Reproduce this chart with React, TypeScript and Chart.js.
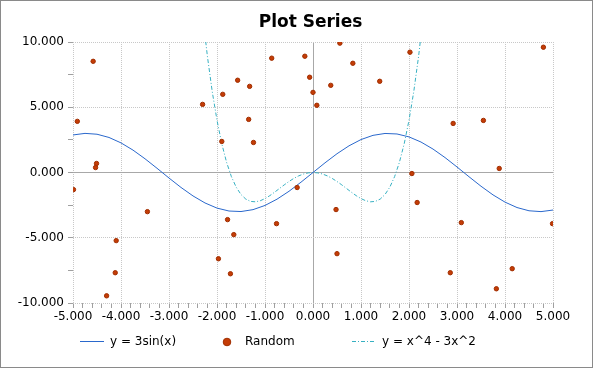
import React, { useEffect, useRef } from "react";
import { Chart, registerables } from "chart.js";

Chart.register(...registerables);

const TITLE = "Plot Series";
const SERIES_LABELS = ["y = 3sin(x)", "Random", "y = x^4 - 3x^2"];

const sineX = [
  -5, -4.75, -4.5, -4.25, -4, -3.75, -3.5, -3.25, -3, -2.75, -2.5, -2.25, -2, -1.75, -1.5, -1.25, -1, -0.75, -0.5, -0.25,
  0, 0.25, 0.5, 0.75, 1, 1.25, 1.5, 1.75, 2, 2.25, 2.5, 2.75, 3, 3.25, 3.5, 3.75, 4, 4.25, 4.5, 4.75, 5,
];
const sineY = [
  2.877, 2.998, 2.933, 2.685, 2.27, 1.715, 1.052, 0.325, -0.423, -1.145, -1.795, -2.334, -2.728, -2.952, -2.992, -2.847,
  -2.524, -2.045, -1.438, -0.742, 0, 0.742, 1.438, 2.045, 2.524, 2.847, 2.992, 2.952, 2.728, 2.334, 1.795, 1.145, 0.423,
  -0.325, -1.052, -1.715, -2.27, -2.685, -2.933, -2.998, -2.877,
];

const quartX = [
  -2.3, -2.2, -2.1, -2.0, -1.9, -1.8, -1.7, -1.6, -1.5, -1.4, -1.3, -1.2, -1.1, -1.0, -0.9, -0.8, -0.7, -0.6, -0.5, -0.4,
  -0.3, -0.2, -0.1, 0, 0.1, 0.2, 0.3, 0.4, 0.5, 0.6, 0.7, 0.8, 0.9, 1.0, 1.1, 1.2, 1.3, 1.4, 1.5, 1.6, 1.7, 1.8, 1.9, 2.0,
  2.1, 2.2, 2.3,
];
const quartY = [
  12.114, 8.906, 6.218, 4.0, 2.202, 0.778, -0.318, -1.126, -1.688, -2.038, -2.214, -2.246, -2.166, -2.0, -1.774, -1.51,
  -1.23, -0.95, -0.688, -0.454, -0.262, -0.118, -0.03, 0, -0.03, -0.118, -0.262, -0.454, -0.688, -0.95, -1.23, -1.51,
  -1.774, -2.0, -2.166, -2.246, -2.214, -2.038, -1.688, -1.126, -0.318, 0.778, 2.202, 4.0, 6.218, 8.906, 12.114,
];

const randomX = [
  -4.91, -4.58, -4.51, -4.53, -2.3, -1.88, -1.9, -1.57, -1.32, -1.34, -1.24, -0.86, -0.17, 0.56, -0.07, 0.0, 0.83, 0.37,
  0.08, 1.39, 2.02, 4.8, 2.92, 3.55, 3.88, 2.06, -4.99, -3.45, -4.1, -4.12, -4.3, -1.78, -1.65, -1.97, -1.72, -0.76,
  -0.33, 0.48, 0.5, 2.17, 3.09, 2.86, 3.82, 4.15, 4.99,
];
const randomY = [
  3.92, 8.52, 0.69, 0.38, 5.22, 5.99, 2.38, 7.07, 6.6, 4.07, 2.3, 8.76, 8.91, 9.91, 7.3, 6.14, 8.37, 6.68, 5.15, 6.99,
  9.22, 9.6, 3.76, 3.99, 0.31, -0.08, -1.31, -3.0, -5.22, -7.68, -9.45, -3.61, -4.76, -6.61, -7.76, -3.92, -1.15, -2.84,
  -6.22, -2.3, -3.84, -7.68, -8.91, -7.37, -3.92,
];

const X_MIN = -5;
const X_MAX = 5;
const X_STEP = 0.2;
const Y_MIN = -10;
const Y_MAX = 10;
const Y_STEP = 2.5;

const SINE_COLOR = "#2a68cc";
const QUART_COLOR = "#36b0c2";
const POINT_FILL = "#c43c06";
const POINT_BORDER = "#a02e00";
const QUART_DASH = [4, 2, 1, 2];
const FONT = "DejaVu Sans";

const toPoints = (xs: number[], ys: number[]) => xs.map((x, i) => ({ x, y: ys[i] }));

const isMajor = (v: number, step: number) => Math.abs(v / step - Math.round(v / step)) < 1e-6;

const fmt = (v: number) => {
  const r = Math.round(v);
  return (r === 0 ? 0 : r).toFixed(3);
};

const decorPlugin = {
  id: "decor",
  afterDraw(chart: any) {
    const ctx = chart.ctx as CanvasRenderingContext2D;
    ctx.save();
    // title
    ctx.fillStyle = "#000";
    ctx.font = `bold 17px "${FONT}"`;
    ctx.textAlign = "center";
    ctx.textBaseline = "middle";
    ctx.fillText(TITLE, 310.5, 22.2);
    // legend
    const y = 341.5;
    const xs = [80, 215, 352];
    ctx.font = `12px "${FONT}"`;
    ctx.textAlign = "left";
    ctx.strokeStyle = SINE_COLOR;
    ctx.lineWidth = 1;
    ctx.setLineDash([]);
    ctx.beginPath();
    ctx.moveTo(xs[0], y);
    ctx.lineTo(xs[0] + 24, y);
    ctx.stroke();
    ctx.fillStyle = POINT_FILL;
    ctx.strokeStyle = POINT_BORDER;
    ctx.beginPath();
    ctx.arc(xs[1] + 12, y + 0.5, 3.8, 0, Math.PI * 2);
    ctx.fill();
    ctx.stroke();
    ctx.strokeStyle = QUART_COLOR;
    ctx.setLineDash(QUART_DASH);
    ctx.beginPath();
    ctx.moveTo(xs[2], y);
    ctx.lineTo(xs[2] + 23, y);
    ctx.stroke();
    ctx.setLineDash([]);
    ctx.fillStyle = "#000";
    SERIES_LABELS.forEach((t, i) => ctx.fillText(t, xs[i] + 30, y));
    // frame
    ctx.strokeStyle = "#8a8a8a";
    ctx.lineWidth = 1;
    ctx.strokeRect(0.5, 0.5, chart.width - 1, chart.height - 1);
    ctx.restore();
  },
};

export default function App() {
  const ref = useRef<HTMLCanvasElement | null>(null);

  useEffect(() => {
    document.body.style.margin = "0";
    if (!ref.current) return;
    const gridColor = (step: number) => (c: any) => {
      const v = c.tick ? c.tick.value : 1;
      if (!isMajor(v, step)) return "rgba(0,0,0,0)";
      return Math.abs(v) < 1e-9 ? "#a8a8a8" : "#c8c8c8";
    };
    const gridDash = (c: any) => (c.tick && Math.abs(c.tick.value) < 1e-9 ? [] : [1, 1]);
    const chart = new Chart(ref.current, {
      type: "scatter",
      data: {
        datasets: [
          {
            label: SERIES_LABELS[0],
            data: toPoints(sineX, sineY),
            showLine: true,
            borderColor: SINE_COLOR,
            backgroundColor: SINE_COLOR,
            borderWidth: 1,
            pointRadius: 0,
            tension: 0,
            order: 1,
          },
          {
            label: SERIES_LABELS[1],
            data: toPoints(randomX, randomY),
            showLine: false,
            backgroundColor: POINT_FILL,
            borderColor: POINT_BORDER,
            borderWidth: 1,
            pointRadius: 2.2,
            order: 0,
          },
          {
            label: SERIES_LABELS[2],
            data: toPoints(quartX, quartY),
            showLine: true,
            borderColor: QUART_COLOR,
            backgroundColor: QUART_COLOR,
            borderWidth: 1,
            borderDash: QUART_DASH,
            pointRadius: 0,
            tension: 0,
            order: 2,
          },
        ],
      },
      options: {
        animation: false,
        responsive: false,
        layout: { padding: { left: 0, right: 40, top: 42, bottom: 40 } },
        plugins: {
          legend: { display: false },
          tooltip: { enabled: false },
          title: { display: false },
        },
        scales: {
          x: {
            type: "linear",
            min: X_MIN,
            max: X_MAX,
            afterFit: (s: any) => {
              s.height = 25;
            },
            ticks: {
              stepSize: X_STEP,
              autoSkip: false,
              maxRotation: 0,
              padding: 2,
              color: "#000",
              font: { family: FONT, size: 12 },
              callback: (v: any) => (isMajor(Number(v), 1) ? fmt(Number(v)) : ""),
            },
            grid: {
              color: gridColor(1),
              lineWidth: 1,
              tickColor: "#a0a0a0",
              tickLength: 5,
              drawTicks: true,
            },
            border: { display: false, dash: gridDash },
          },
          y: {
            type: "linear",
            min: Y_MIN,
            max: Y_MAX,
            afterFit: (s: any) => {
              s.width = 73;
            },
            ticks: {
              stepSize: Y_STEP,
              autoSkip: false,
              padding: 4,
              color: "#000",
              font: { family: FONT, size: 12 },
              callback: (v: any) => (isMajor(Number(v), 5) ? fmt(Number(v)) : ""),
            },
            grid: {
              color: gridColor(5),
              lineWidth: 1,
              tickColor: "#a0a0a0",
              tickLength: 5,
              drawTicks: true,
            },
            border: { display: false, dash: gridDash },
          },
        },
      } as any,
      plugins: [decorPlugin],
    });
    return () => chart.destroy();
  }, []);

  return (
    <div style={{ position: "fixed", left: 0, top: 0, width: 593, height: 368, background: "#fff" }}>
      <canvas ref={ref} width={593} height={368} style={{ display: "block", width: 593, height: 368 }} />
    </div>
  );
}
